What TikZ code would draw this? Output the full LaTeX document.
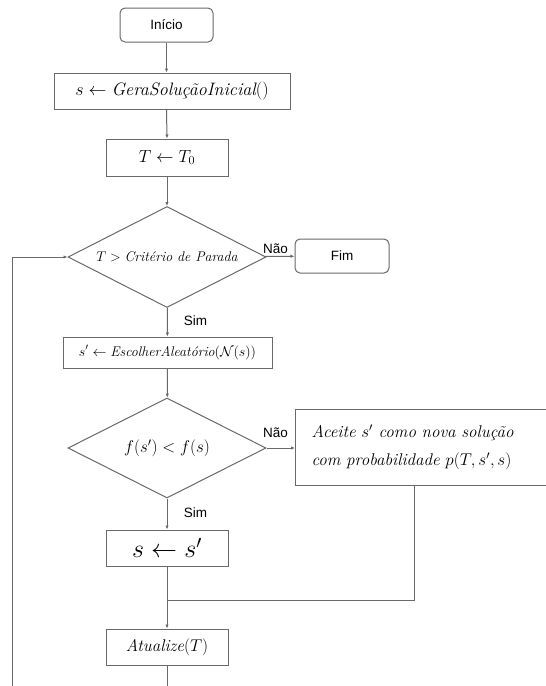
\RequirePackage{fix-cm}
\documentclass[tikz,border=0pt]{standalone}
\usepackage{fontspec}
\setsansfont{Liberation Sans}
\usetikzlibrary{shapes.geometric,arrows.meta}

\definecolor{linegray}{RGB}{105,105,105}

\tikzset{
  box/.style={draw=linegray, line width=1pt, inner sep=0pt},
  term/.style={box, rounded corners=5pt, font=\sffamily\fontsize{13.5}{16}\selectfont},
  decision/.style={box, shape=diamond, aspect=2},
  lbl/.style={inner sep=0pt, font=\sffamily\fontsize{13.5}{16}\selectfont},
  flow/.style={draw=linegray, line width=1pt},
  arrow/.style={flow, -{Latex[length=4pt,width=3.4pt]}}
}

\begin{document}
\begin{tikzpicture}[x=1pt,y=-1pt]
    \useasboundingbox (0,0) rectangle (546,686);
    \clip (0,0) rectangle (546,686);

    % main column
    \node[term, minimum width=93pt, minimum height=34pt] (inicio) at (166.5,25) {Início};
    \node[box, minimum width=236pt, minimum height=36pt, font=\fontsize{18}{21}\selectfont]
        (gera) at (172,91) {$s \leftarrow \textit{GeraSoluçãoInicial}()$};
    \node[box, minimum width=122pt, minimum height=37pt, font=\fontsize{17.5}{20}\selectfont]
        (temp) at (167,157.5) {$T \leftarrow T_0$};
    \node[decision, minimum width=198pt, minimum height=101pt, font=\fontsize{14}{16}\selectfont]
        (parada) at (167,257) {$T > \textit{Critério de Parada}$};
    \node[term, minimum width=94pt, minimum height=34pt] (fim) at (342,256) {Fim};
    \node[box, minimum width=209pt, minimum height=31pt, font=\fontsize{14}{17}\selectfont]
        (escolhe) at (167.5,352.5) {$s' \leftarrow \textit{EscolherAleatório}(\mathcal{N}(s))$};
    \node[decision, minimum width=198pt, minimum height=100pt, font=\fontsize{17}{20}\selectfont]
        (compara) at (167,448) {$f(s') < f(s)$};
    \node[box, anchor=west, text width=256pt, inner xsep=16pt, minimum height=76pt, align=left,
        font=\fontsize{17}{28}\selectfont]
        (aceite) at (295,447) {\textit{Aceite $s'$ como nova solução}\\
                               \textit{com probabilidade $p(T,s',s)$}};
    \node[box, minimum width=122pt, minimum height=36pt, font=\fontsize{26}{30}\selectfont]
        (troca) at (167,548) {$s \leftarrow s'$};
    \node[box, minimum width=122pt, minimum height=36pt, font=\fontsize{17}{20}\selectfont]
        (atualiza) at (167,647) {$\textit{Atualize}(T)$};

    % labels
    \node[lbl] (nao1) at (275.5,249) {Não};
    \node[lbl] (sim1) at (195.5,321) {Sim};
    \node[lbl] (nao2) at (275.5,433) {Não};
    \node[lbl] (sim2) at (195.5,513) {Sim};

    % helper points
    \coordinate (junta) at (167,600);
    \coordinate (desce) at (414,600);
    \coordinate (fundo) at (167,700);
    \coordinate (canto) at (12,700);

    % connectors
    \draw[arrow] (inicio.south) -- (inicio.south |- gera.north);
    \draw[arrow] (inicio.south |- gera.south) -- (temp.north);
    \draw[arrow] (temp) -- (parada);
    \draw[arrow] (parada) -- (fim);
    \draw[arrow] (parada) -- (escolhe);
    \draw[arrow] (escolhe) -- (compara);
    \draw[arrow] (compara) -- (compara -| aceite.west);
    \draw[arrow] (compara) -- (troca);
    \draw[flow] (desce |- aceite.south) -- (desce) -- (junta);
    \draw[flow] (troca) -- (junta);
    \draw[arrow] (junta) -- (atualiza);
    \draw[arrow] (atualiza) -- (fundo) -- (canto) -- (canto |- parada) -- (parada.west);
\end{tikzpicture}
\end{document}
